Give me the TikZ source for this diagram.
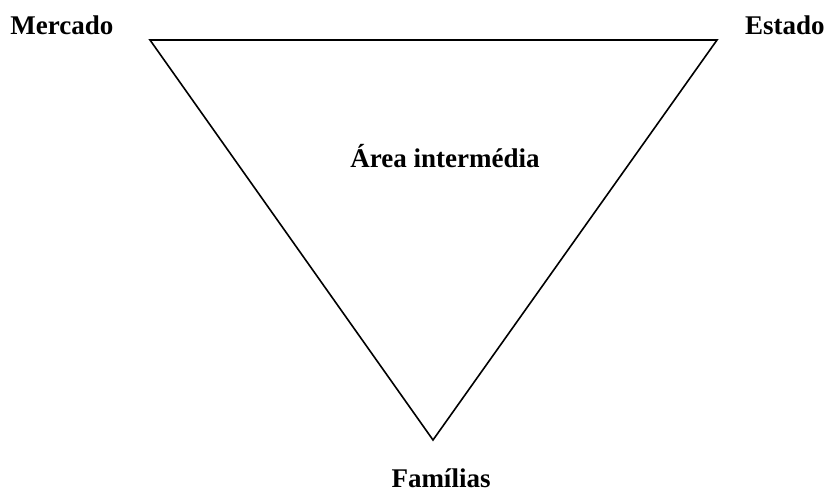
\documentclass[tikz,border=0pt]{standalone}
\usepackage{fontspec}
\setmainfont{Liberation Serif}
\begin{document}
\begin{tikzpicture}[x=0.5pt,y=-0.5pt,
  rotulo/.style={font=\fontsize{13.5}{16}\selectfont\bfseries,inner sep=0pt}]
     % Margens da figura
     \useasboundingbox (0,0) rectangle (828,492);
     % Vértices do triângulo
     \coordinate (mer) at (150,40);
     \coordinate (est) at (717,40);
     \coordinate (fam) at (433,440);
     % Triângulo invertido
     \draw[line width=0.8pt,line join=miter] (mer) -- (est) -- (fam) -- cycle;
     % Rótulos
     \node[rotulo,anchor=base west] (lmer) at (10,35) {Mercado};
     \node[rotulo,anchor=base east] (lest) at (825,35) {Estado};
     \node[rotulo,anchor=base] (larea) at (445,167) {Área intermédia};
     \node[rotulo,anchor=base] (lfam) at (441,487) {Famílias};
\end{tikzpicture}
\end{document}
